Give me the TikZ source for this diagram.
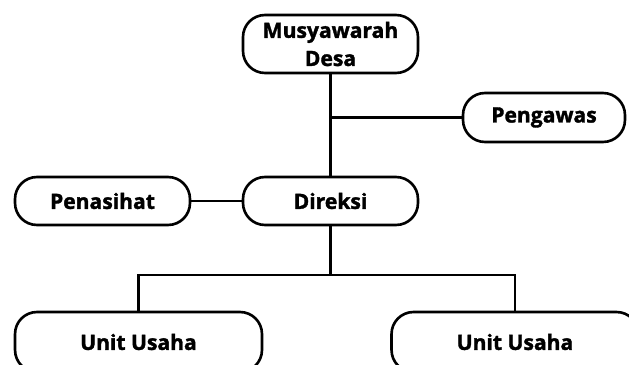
\documentclass[tikz,border=0pt]{standalone}
\usepackage{fontspec}
\setmainfont[BoldFeatures={FakeBold=1.6}]{Open Sans}
\begin{document}
\begin{tikzpicture}[   % opciones por defecto
  x=0.02cm, y=-0.02cm, % un pixel de la imagen
  line width=1.4pt,    % lineas de union
  draw=black!100,      % linea negro 100%
  font=\fontsize{12}{16}\selectfont\bfseries
]
  \tikzstyle{caja}=[draw, rounded corners=0.44cm, line width=1.5pt, minimum width=3.5cm, minimum height=0.96cm, align=center, inner sep=2pt];
  \tikzstyle{unidad}=[caja, minimum width=4.94cm, minimum height=1.2cm];
  %
  % marco de la imagen
  \useasboundingbox (0,0) rectangle (629,365);
  \clip (0,0) rectangle (629,365);
  %
  % musyawarah desa
  \node [caja, minimum height=1.16cm] (musdes) at (330.5,44) {Musyawarah\\Desa};
  %
  % pengawas
  \node [caja, minimum width=3.24cm, minimum height=0.98cm] (pengawas) at (544,117.5) {Pengawas};
  %
  % direksi y penasihat
  \node [caja] (direksi) at (330.5,201) {Direksi};
  \node [caja] (penasihat) at (102.5,201) {Penasihat};
  %
  % unidades de negocio
  \node [unidad] (unidad1) at (138.5,342) {Unit Usaha};
  \node [unidad] (unidad2) at (515,342) {Unit Usaha};
  %
  % conexiones
  \coordinate (jpeng) at (musdes.south |- pengawas.west);
  \coordinate (junidad) at (330.5,275);
  \draw (musdes) -- (direksi);
  \draw (jpeng) -- (pengawas);
  \draw (penasihat) -- (direksi);
  \draw (direksi) -- (junidad);
  \foreach \u in {1,2} {
    \draw (junidad) -| (unidad\u);
  }
\end{tikzpicture}
\end{document}
